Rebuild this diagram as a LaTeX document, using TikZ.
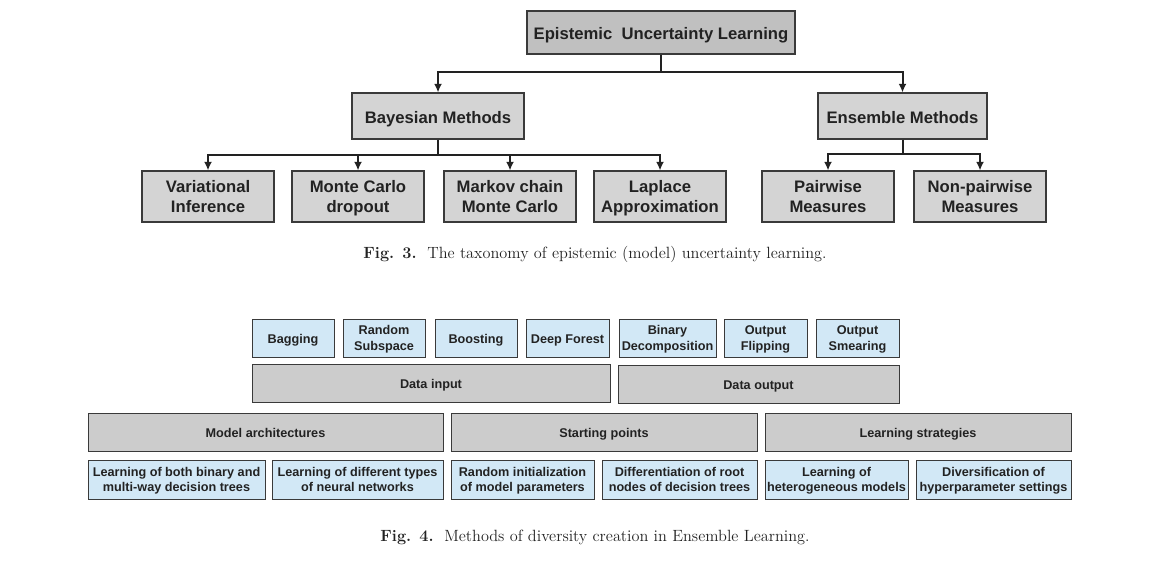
\documentclass[tikz,border=0pt]{standalone}
\usepackage{fontspec}
\setsansfont{Liberation Sans}
\usetikzlibrary{arrows.meta,calc}
\definecolor{rootgray}{HTML}{C0C0C0}
\definecolor{boxgray}{HTML}{D4D4D4}
\definecolor{bargray}{HTML}{CCCCCC}
\definecolor{lblue}{HTML}{D2E8F6}
\definecolor{edge}{HTML}{3A3A3A}
\definecolor{ink}{HTML}{222222}
\newcommand{\bx}[7]{\node[#6, minimum width={(#4-#2)*0.75pt}, minimum height={(#5-#3)*0.75pt}] (#1) at ({(#2+#4)/2},{(#3+#5)/2}) {#7};}
\tikzset{
  base/.style={draw=edge, line width=0.8pt, inner sep=0pt, align=center, text=ink, text depth=0pt, font=\sffamily\bfseries},
  topbox/.style={base, fill=boxgray, font=\sffamily\bfseries\fontsize{12.5pt}{14.5pt}\selectfont},
  rootbox/.style={topbox, fill=rootgray},
  onetop/.style={text height=11pt},
  graybar/.style={base, fill=bargray, line width=0.6pt, font=\sffamily\bfseries\fontsize{9.5pt}{11.5pt}\selectfont},
  bluebox/.style={graybar, fill=lblue},
  onebar/.style={text height=8pt},
  conn/.style={draw=ink, line width=1.5pt, -{Latex[length=6.5pt,width=6pt]}},
  captext/.style={font=\fontsize{12.2pt}{14pt}\selectfont, text=ink, inner sep=0pt}
}
\begin{document}
\begin{tikzpicture}[x=0.75pt,y=-0.75pt]
\useasboundingbox (0,0) rectangle (1155,561);
% Fig 3
\bx{root}{527}{11}{795}{54}{rootbox,onetop}{Epistemic\ \ Uncertainty Learning}
\bx{bayes}{352}{93}{524}{139}{topbox,onetop}{Bayesian Methods}
\bx{ens}{818}{93}{987}{139}{topbox,onetop}{Ensemble Methods}
\bx{vi}{142}{171}{274}{222}{topbox}{Variational\\Inference}
\bx{mcd}{292}{171}{424}{222}{topbox}{Monte Carlo\\dropout}
\bx{mcmc}{444}{171}{576}{222}{topbox}{Markov chain\\Monte Carlo}
\bx{lap}{594}{171}{726}{222}{topbox}{Laplace\\Approximation}
\bx{pw}{762}{171}{894}{222}{topbox}{Pairwise\\Measures}
\bx{npw}{914}{171}{1046}{222}{topbox}{Non-pairwise\\Measures}
\coordinate (rj) at ($(root.south)+(0,17)$);
\draw[conn] (root.south) -- (rj) -| (bayes.north);
\draw[conn] (rj) -| (ens.north);
\coordinate (bj) at ($(bayes.south)+(0,15)$);
\draw[conn] (bayes.south) -- (bj) -| (vi.north);
\draw[conn] (bj) -| (mcd.north);
\draw[conn] (bj) -| (mcmc.north);
\draw[conn] (bj) -| (lap.north);
\coordinate (ej) at ($(ens.south)+(0,14)$);
\draw[conn] (ens.south) -- (ej) -| (pw.north);
\draw[conn] (ej) -| (npw.north);
\node[captext] (cap3) at (595,254) {\textbf{Fig. 3.}\ \ The taxonomy of epistemic (model) uncertainty learning.};
% Fig 4
\bx{bag}{252}{319}{334}{357}{bluebox,onebar}{Bagging}
\bx{rs}{343}{319}{425}{357}{bluebox}{Random\\Subspace}
\bx{boo}{435}{319}{517}{357}{bluebox,onebar}{Boosting}
\bx{df}{526}{319}{609}{357}{bluebox,onebar}{Deep Forest}
\bx{bd}{619}{319}{716}{357}{bluebox}{Binary\\Decomposition}
\bx{of}{724}{319}{807}{357}{bluebox}{Output\\Flipping}
\bx{os}{816}{319}{899}{357}{bluebox}{Output\\Smearing}
\bx{din}{252}{364}{610}{402}{graybar,onebar}{Data input}
\bx{dout}{618}{365}{899}{403}{graybar,onebar}{Data output}
\bx{ma}{88}{413}{443}{451}{graybar,onebar}{Model architectures}
\bx{sp}{451}{413}{757}{451}{graybar,onebar}{Starting points}
\bx{ls}{765}{413}{1071}{451}{graybar,onebar}{Learning strategies}
\bx{lb}{88}{460}{265}{499}{bluebox}{Learning of both binary and\\multi-way decision trees}
\bx{ld}{272}{460}{443}{499}{bluebox}{Learning of different types\\of neural networks}
\bx{ri}{451}{460}{594}{499}{bluebox}{Random initialization\\of model parameters}
\bx{dr}{602}{460}{757}{499}{bluebox}{Differentiation of root\\nodes of decision trees}
\bx{lh}{765}{460}{908}{499}{bluebox}{Learning of\\heterogeneous models}
\bx{dh}{916}{460}{1071}{499}{bluebox}{Diversification of\\hyperparameter settings}
\node[captext] (cap4) at (595,537) {\textbf{Fig. 4.}\ \ Methods of diversity creation in Ensemble Learning.};
\end{tikzpicture}
\end{document}
